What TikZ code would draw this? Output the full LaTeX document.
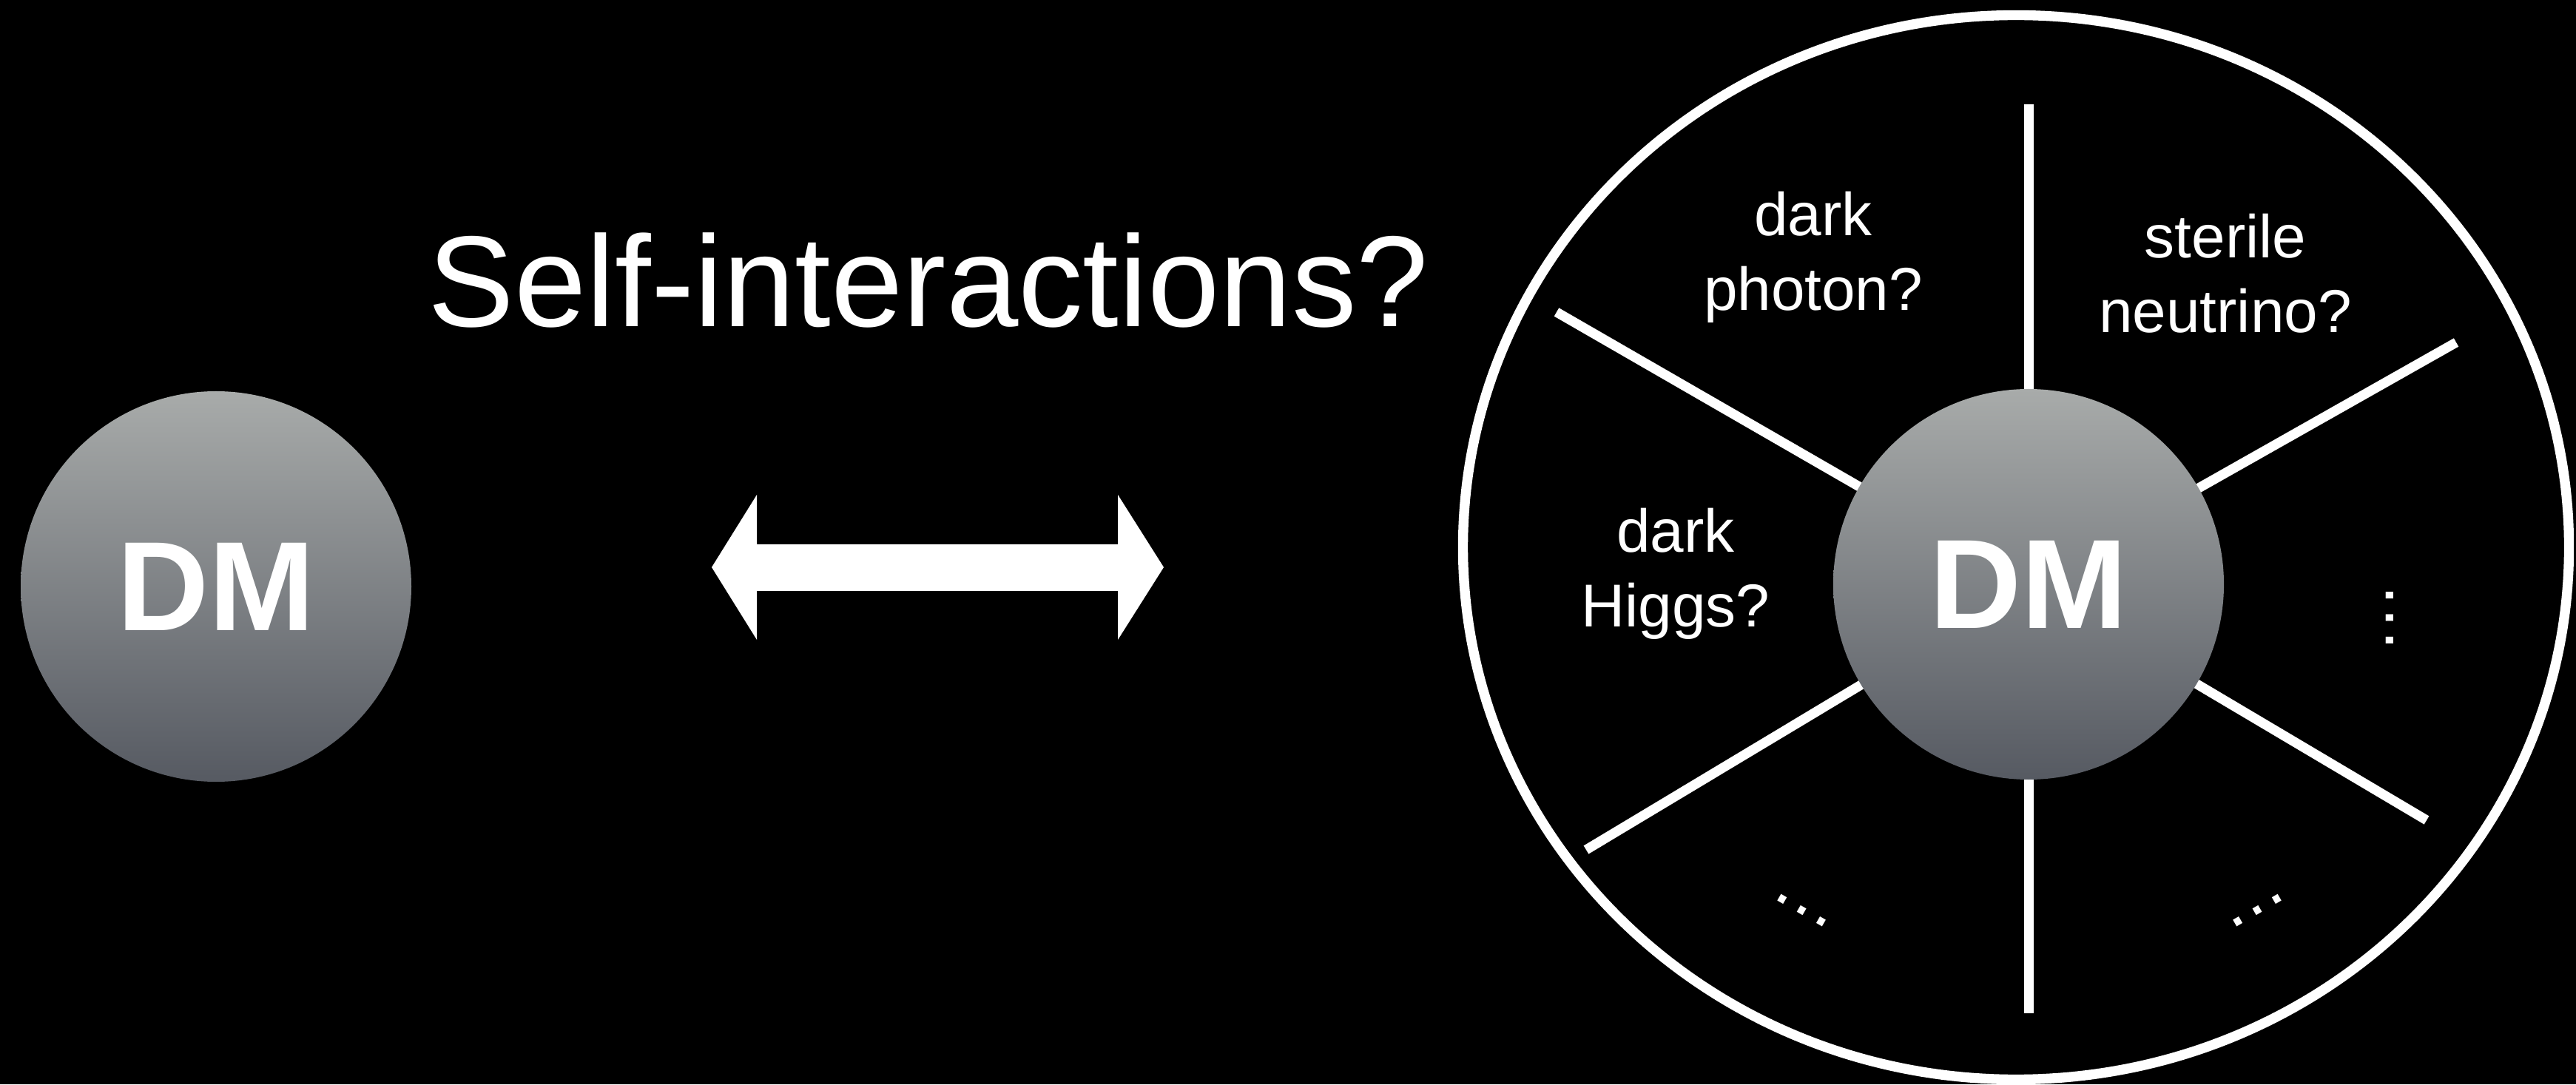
\documentclass[tikz,border=0pt]{standalone}
\usepackage{fontspec}
\setmainfont{Liberation Sans}
\definecolor{dmtop}{RGB}{168,171,170}
\definecolor{dmbot}{RGB}{86,90,98}

\begin{document}
\begin{tikzpicture}[white,
  dm/.style={circle, minimum size=5.28cm, inner sep=0pt, top color=dmtop, bottom color=dmbot, font=\fontsize{48.9pt}{58pt}\bfseries},
  spoke/.style={line width=3.7pt},
  lbl/.style={align=center, anchor=base, inner sep=0pt, font=\fontsize{23.3pt}{29pt}\selectfont},
  dots/.style={inner sep=0pt, font=\fontsize{27.3pt}{30pt}\selectfont}]
  \fill[black] (0,0) rectangle (34.82,14.66);
  \useasboundingbox (0,0) rectangle (34.82,14.66);
  % left particle
  \node[dm] (dmL) at (2.92,6.73) {DM};
  \node[anchor=base, inner sep=0pt, font=\fontsize{49.8pt}{60pt}\selectfont] (title) at (12.55,10.24) {Self-interactions?};
  \fill (9.62,6.99) -- (10.23,7.97) -- (10.23,7.30) -- (15.11,7.30) -- (15.11,7.97) -- (15.73,6.99)
    -- (15.11,6.01) -- (15.11,6.67) -- (10.23,6.67) -- (10.23,6.01) -- cycle;
  % dark sector
  \draw[line width=3.8pt] (27.25,7.26) ellipse [x radius=7.475, y radius=7.195];
  \coordinate (hub) at (27.42,6.76);
  \coordinate (eN) at (27.42,13.25);
  \coordinate (eS) at (27.42,0.96);
  \coordinate (eNW) at (21.04,10.44);
  \coordinate (eSW) at (21.44,3.17);
  \coordinate (eNE) at (33.20,10.03);
  \coordinate (eSE) at (32.80,3.57);
  \foreach \e in {eN,eS,eNW,eSW,eNE,eSE}
    \draw[spoke] (hub) -- (\e);
  \node[dm] (dmR) at (hub) {DM};
  \node[lbl] (photon) at (24.51,10.46) {dark\\photon?};
  \node[lbl] (sterile) at (30.08,10.16) {sterile\\neutrino?};
  \node[lbl] (higgs) at (22.65,6.18) {dark\\Higgs?};
  \node[dots, rotate=90] (moreE) at (32.30,6.30) {…};
  \node[dots, rotate=-30] (moreSW) at (24.36,2.35) {…};
  \node[dots, rotate=30] (moreSE) at (30.51,2.35) {…};
\end{tikzpicture}
\end{document}
